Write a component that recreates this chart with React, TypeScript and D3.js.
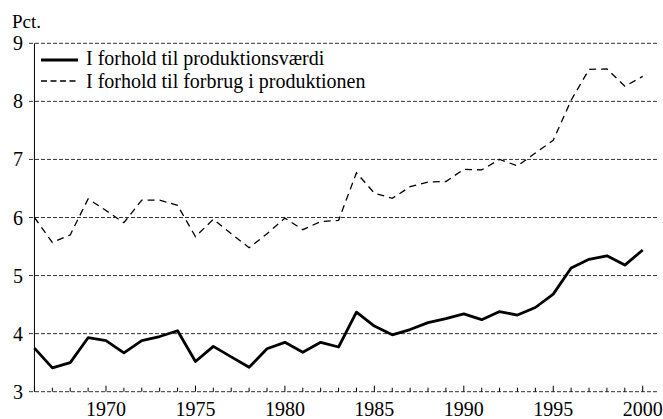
import React from "react";
import * as d3 from "d3";

const years: number[] = d3.range(1966, 2001);
const produktionsvaerdi: number[] = [
  3.75, 3.41, 3.5, 3.93, 3.88, 3.67, 3.88, 3.95, 4.05, 3.52,
  3.78, 3.6, 3.42, 3.74, 3.85, 3.68, 3.85, 3.77, 4.37, 4.13,
  3.98, 4.07, 4.19, 4.26, 4.34, 4.24, 4.38, 4.32, 4.45, 4.68,
  5.13, 5.28, 5.34, 5.18, 5.44,
];
const forbrug: number[] = [
  6.0, 5.57, 5.7, 6.32, 6.12, 5.91, 6.3, 6.3, 6.21, 5.67,
  5.97, 5.72, 5.48, 5.72, 5.99, 5.79, 5.93, 5.95, 6.77, 6.42,
  6.33, 6.53, 6.61, 6.62, 6.83, 6.82, 7.0, 6.89, 7.11, 7.33,
  8.02, 8.55, 8.56, 8.26, 8.43,
];
const yTicks: number[] = [3, 4, 5, 6, 7, 8, 9];
const xLabelYears: number[] = [1970, 1975, 1980, 1985, 1990, 1995, 2000];
const seriesNames: string[] = [
  "I forhold til produktionsværdi",
  "I forhold til forbrug i produktionen",
];

const W = 663;
const H = 419;
const right = 658;
const top = 43.3;
const bottom = 391.7;
const textStyle: React.CSSProperties = {
  fontFamily: "Liberation Serif, Times New Roman, serif",
};

export default function App() {
  const x = d3.scaleLinear().domain([1970, 2000]).range([106, 642.7]);
  const y = d3.scaleLinear().domain([3, 9]).range([bottom, top]);
  const left = x(1966);
  const line = d3
    .line<number>()
    .x((_, i) => x(years[i]))
    .y((d) => y(d));

  return (
    <svg
      width={W}
      height={H}
      style={{ position: "absolute", left: 0, top: 0, background: "#fff" }}
    >
      <rect width={W} height={H} fill="#fff" />
      {yTicks.map((t) => (
        <g key={t}>
          <line
            x1={29}
            x2={right}
            y1={y(t)}
            y2={y(t)}
            stroke="#333"
            strokeWidth={1}
            strokeDasharray="4,2"
          />
          <text
            x={23}
            y={y(t)}
            dy="0.35em"
            textAnchor="end"
            style={textStyle}
            fontSize={20}
            fill="#000"
          >
            {t}
          </text>
        </g>
      ))}
      <line x1={left} x2={left} y1={top} y2={bottom} stroke="#000" strokeWidth={1} />
      {years.map((yr) => (
        <line
          key={yr}
          x1={x(yr)}
          x2={x(yr)}
          y1={bottom}
          y2={bottom - (yr % 5 === 0 ? 6 : 4)}
          stroke="#000"
          strokeWidth={1}
        />
      ))}
      {xLabelYears.map((yr) => (
        <text
          key={yr}
          x={x(yr)}
          y={bottom + 24.5}
          textAnchor="middle"
          style={textStyle}
          fontSize={20}
          fill="#000"
        >
          {yr}
        </text>
      ))}
      <text x={12} y={28} style={textStyle} fontSize={19} fill="#000">
        Pct.
      </text>
      <path
        d={line(forbrug) || ""}
        fill="none"
        stroke="#000"
        strokeWidth={1.3}
        strokeDasharray="7,5"
      />
      <path
        d={line(produktionsvaerdi) || ""}
        fill="none"
        stroke="#000"
        strokeWidth={2.8}
        strokeLinejoin="round"
      />
      <g>
        <line x1={41} x2={78} y1={60} y2={60} stroke="#000" strokeWidth={2.8} />
        <text x={86} y={65} style={textStyle} fontSize={20} fill="#000">
          {seriesNames[0]}
        </text>
        <line
          x1={41}
          x2={78}
          y1={81}
          y2={81}
          stroke="#000"
          strokeWidth={1.3}
          strokeDasharray="6,3.5"
        />
        <text x={86} y={88} style={textStyle} fontSize={20} fill="#000">
          {seriesNames[1]}
        </text>
      </g>
    </svg>
  );
}
